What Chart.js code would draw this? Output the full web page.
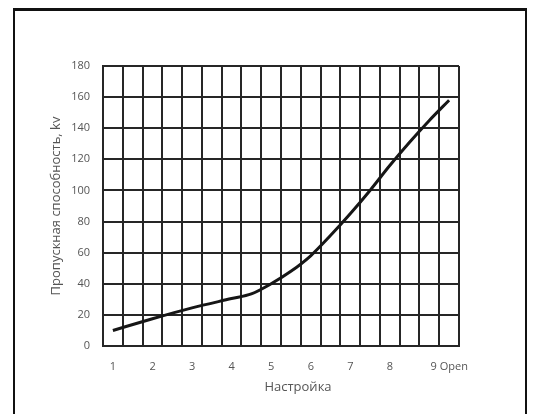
<!DOCTYPE html>
<html><head><meta charset="utf-8">
<script src="https://cdn.jsdelivr.net/npm/chart.js@4"></script>
<style>
html,body{margin:0;padding:0;background:#fff;}
#wrap{position:relative;width:536px;height:414px;overflow:hidden;background:#fff;}
#frame{position:absolute;left:13px;top:8px;width:510px;height:600px;border:2px solid #111;border-top-width:3px;box-sizing:content-box;}
canvas{position:absolute;left:0;top:0;}
</style></head><body>
<div id="wrap"><div id="frame"></div><canvas id="c" width="536" height="414"></canvas></div>
<script>
// ---- data ----
const settings  = [1, 2, 3, 4, 4.5, 5, 5.5, 6, 6.5, 7, 7.5, 8, 8.5, 9, 9.5];
const capacity  = [10, 17.5, 24.5, 30.5, 33.5, 40, 48, 58, 71, 85, 100, 116, 131, 145, 158];
const xTickLabels = ['1', '2', '3', '4', '5', '6', '7', '8', '9 Open'];
const yTickValues = [0, 20, 40, 60, 80, 100, 120, 140, 160, 180];
const yTitle = 'Пропускная способность, kv';
const xTitle = 'Настройка';

// ---- axis setup ----
const xMin = 0.75, xMax = 9.75, gridStep = 0.5;
const gridValues = [];
for (let v = xMin; v <= xMax + 1e-9; v += gridStep) gridValues.push(Math.round(v * 100) / 100);
const lastIdx = xTickLabels.length - 1;
function labelForTick(v) {
  for (let i = 0; i < xTickLabels.length; i++) {
    const pos = i + xMin + (i === lastIdx ? gridStep : 0);
    if (Math.abs(v - pos) < 1e-6) return xTickLabels[i];
  }
  return '';
}

const gridColor = '#262626';
const textColor = '#555';
const fontFam = "'Open Sans', sans-serif";

new Chart(document.getElementById('c'), {
  type: 'line',
  data: {
    datasets: [{
      data: settings.map((s, i) => ({x: s, y: capacity[i]})),
      borderColor: '#161616',
      borderWidth: 3,
      pointRadius: 0,
      cubicInterpolationMode: 'monotone',
      fill: false
    }]
  },
  options: {
    responsive: false,
    animation: false,
    layout: {padding: {left: 44, right: 77, top: 66, bottom: 15}},
    plugins: {legend: {display: false}, tooltip: {enabled: false}},
    scales: {
      x: {
        type: 'linear',
        min: xMin, max: xMax,
        afterBuildTicks: s => { s.ticks = gridValues.map(v => ({value: v})); },
        afterFit: s => {
          s.height = 53;
          if (!s._titleShift) {
            const orig = s.drawTitle;
            s.drawTitle = function () {
              const ctx = this.ctx; ctx.save(); ctx.translate(17, 0);
              orig.apply(this, arguments); ctx.restore();
            };
            s._titleShift = true;
          }
        },
        grid: {color: gridColor, lineWidth: 2, drawTicks: false},
        border: {display: true, color: gridColor, width: 2},
        ticks: {
          autoSkip: false, maxRotation: 0, padding: 14, labelOffset: 10,
          color: textColor, font: {family: fontFam, size: 11},
          callback: v => labelForTick(v)
        },
        title: {display: true, text: xTitle, color: textColor, font: {family: fontFam, size: 13}}
      },
      y: {
        type: 'linear',
        min: yTickValues[0], max: yTickValues[yTickValues.length - 1],
        afterBuildTicks: s => { s.ticks = yTickValues.map(v => ({value: v})); },
        afterFit: s => { s.width = 59; },
        grid: {color: gridColor, lineWidth: 2, drawTicks: false},
        border: {display: true, color: gridColor, width: 2},
        ticks: {padding: 13, color: textColor, font: {family: fontFam, size: 11}},
        title: {display: true, text: yTitle, color: textColor, font: {family: fontFam, size: 13}}
      }
    }
  }
});
</script>
</body></html>
